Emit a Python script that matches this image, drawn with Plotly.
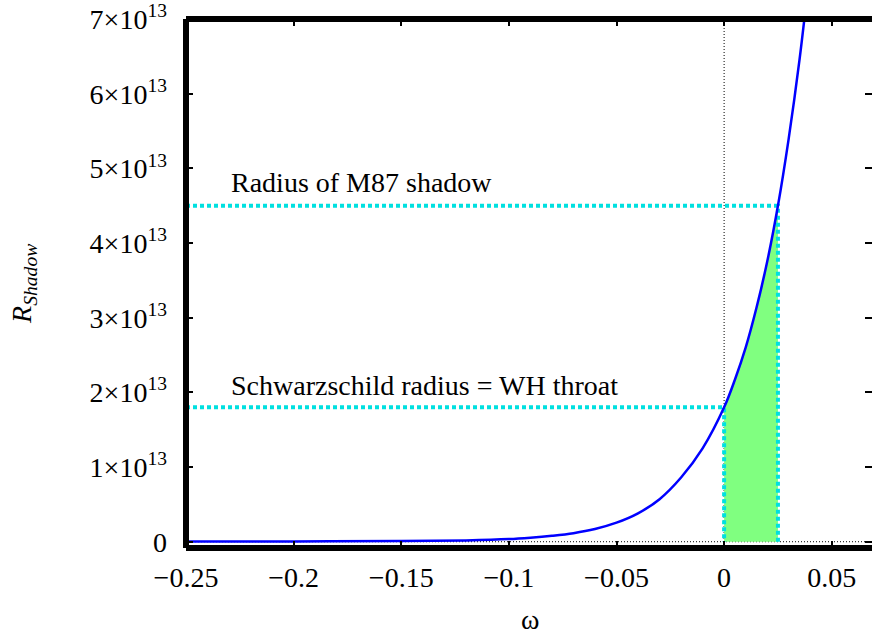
import numpy as np
import plotly.graph_objects as go

# Shadow radius R_Shadow as a function of omega
omega = [-0.25, -0.2, -0.15, -0.12, -0.1, -0.09, -0.08, -0.07, -0.06, -0.05,
         -0.04, -0.03, -0.02, -0.01, 0.0, 0.005, 0.01, 0.015, 0.02, 0.025,
         0.03, 0.035, 0.04]
r_shadow = [0.002e13, 0.004e13, 0.009e13, 0.018e13, 0.035e13, 0.054e13, 0.08e13,
            0.115e13, 0.17e13, 0.255e13, 0.38e13, 0.57e13, 0.86e13, 1.25e13,
            1.8e13, 2.17e13, 2.6e13, 3.13e13, 3.75e13, 4.5e13, 5.4e13, 6.45e13,
            7.7e13]

# Reference levels
omega_wh, r_wh = 0.0, 1.8e13          # Schwarzschild radius = WH throat
omega_m87, r_m87 = 0.025, 4.5e13      # Radius of M87 shadow

x_range = [-0.25, 0.0687]
y_range = [-0.084e13, 7.002e13]

x_ticks = [-0.25, -0.2, -0.15, -0.1, -0.05, 0.0, 0.05]
x_tick_text = ["\u22120.25", "\u22120.2", "\u22120.15", "\u22120.1", "\u22120.05", "0", "0.05"]
y_ticks = [0, 1e13, 2e13, 3e13, 4e13, 5e13, 6e13, 7e13]
y_tick_text = ["0"] + [f"{k}\u00d710<sup>13</sup>" for k in range(1, 8)]

FONT = "Liberation Serif"
FS = 28
CYAN = "#00e0e0"

om = np.array(omega)
rs = np.array(r_shadow)
band = (om >= omega_wh) & (om <= omega_m87)

fig = go.Figure()

# allowed region between the two radii
fig.add_trace(go.Scatter(
    x=om[band], y=rs[band], mode="lines", fill="tozeroy",
    fillcolor="#80ff80", line=dict(width=0, shape="spline"),
    hoverinfo="skip", showlegend=False))

# dotted guide lines for the two reference radii
for w, r in [(omega_wh, r_wh), (omega_m87, r_m87)]:
    fig.add_trace(go.Scatter(
        x=[x_range[0], w, w], y=[r, r, 0], mode="lines",
        line=dict(color=CYAN, width=4, dash="4px,3px"),
        hoverinfo="skip", showlegend=False))

# R_Shadow curve
fig.add_trace(go.Scatter(
    x=omega, y=r_shadow, mode="lines",
    line=dict(color="#0000ff", width=2.5, shape="spline"),
    showlegend=False))

shapes = [
    # zero axes
    dict(type="line", xref="x", yref="paper", x0=0, x1=0, y0=0, y1=1,
         line=dict(color="black", width=1, dash="1px,2px"), layer="below"),
    dict(type="line", xref="paper", yref="y", x0=0, x1=1, y0=0, y1=0,
         line=dict(color="black", width=1, dash="1px,2px"), layer="below"),
    # frame
    dict(type="line", xref="paper", yref="paper", x0=0, x1=0, y0=0, y1=1,
         line=dict(color="black", width=6), layer="above"),
    dict(type="line", xref="paper", yref="paper", x0=0, x1=1.01, y0=1, y1=1,
         line=dict(color="black", width=6), layer="above"),
    dict(type="line", xref="paper", yref="paper", x0=0, x1=1.01, y0=0, y1=0,
         line=dict(color="black", width=6), layer="above"),
]

annotations = [
    dict(text="Radius of M87 shadow", x=-0.2298, y=4.81e13, xref="x", yref="y",
         xanchor="left", yanchor="middle", showarrow=False,
         font=dict(family=FONT, size=FS, color="black")),
    dict(text="Schwarzschild radius = WH throat", x=-0.2298, y=2.09e13,
         xref="x", yref="y", xanchor="left", yanchor="middle", showarrow=False,
         font=dict(family=FONT, size=FS, color="black")),
    dict(text="\u03c9", x=0.502, y=-0.135, xref="paper", yref="paper",
         xanchor="center", yanchor="middle", showarrow=False,
         font=dict(family=FONT, size=FS, color="black")),
    dict(text="<i>R<sub>Shadow</sub></i>", x=-0.237, y=0.5, xref="paper",
         yref="paper", xanchor="center", yanchor="middle", textangle=-90,
         showarrow=False, font=dict(family=FONT, size=FS, color="black")),
]

fig.update_layout(
    width=872, height=641,
    margin=dict(l=186, r=0, t=17, b=93),
    paper_bgcolor="white", plot_bgcolor="white",
    font=dict(family=FONT, size=FS, color="black"),
    shapes=shapes, annotations=annotations,
    xaxis=dict(range=x_range, tickvals=x_ticks, ticktext=x_tick_text,
               ticks="inside", ticklen=7, tickwidth=2, tickcolor="black",
               mirror="ticks", showline=False, showgrid=False, zeroline=False,
               ticklabelstandoff=10, ticklabeloverflow="allow",
               tickfont=dict(family=FONT, size=FS)),
    yaxis=dict(range=y_range, tickvals=y_ticks, ticktext=y_tick_text,
               ticks="inside", ticklen=7, tickwidth=2, tickcolor="black",
               mirror="ticks", showline=False, showgrid=False, zeroline=False,
               ticklabelstandoff=18, ticklabeloverflow="allow",
               tickfont=dict(family=FONT, size=FS)),
)

fig.write_html("out.html")
